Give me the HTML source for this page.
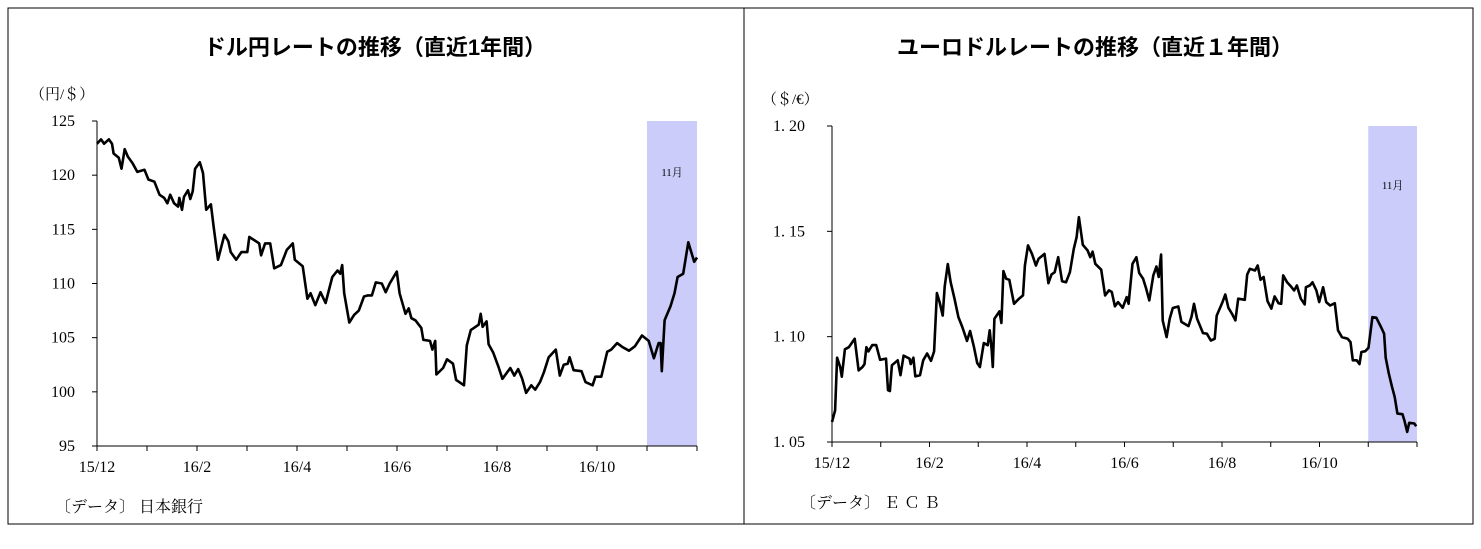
<!DOCTYPE html>
<html><head><meta charset="utf-8"><style>
body{margin:0;background:#fff;}
svg text{font-family:"Liberation Serif","Noto Serif CJK SC",serif;}
.ttl{font-family:"Liberation Sans","Noto Sans CJK JP",sans-serif;font-size:22px;font-weight:600;}
</style></head><body>
<svg id="c" width="1481" height="544" xmlns="http://www.w3.org/2000/svg">
<rect x="8" y="8" width="1465" height="516" fill="none" stroke="#000" stroke-width="1"/>
<line x1="744" y1="8" x2="744" y2="524" stroke="#000"/>
<text class="ttl" x="375" y="55" text-anchor="middle">ドル円レートの推移（直近1年間）</text>
<text class="ttl" x="1095" y="55" text-anchor="middle">ユーロドルレートの推移（直近１年間）</text>
<text x="30" y="99" font-size="15">（円/＄）</text>
<text x="762" y="104" font-size="15">（＄/€）</text>
<text x="55" y="512" font-size="16">〔データ〕 日本銀行</text>
<text x="800" y="508" font-size="16">〔データ〕 Ｅ Ｃ Ｂ</text>
<g id="L"></g><g id="R"></g>
</svg>
<script>
// Left chart (USD/JPY) — time positions in reading units, values in yen
const leftT=[20,30,38,50,58,62,75,82,90,98,110,122,140,150,165,178,190,198,205,215,225,228,235,240,250,256,262,268,280,288,296,308,315,326,342,352,358,372,385,400,405,430,435,445,458,468,485,500,515,520,540,552,560,572,585,598,615,628,635,640,645,658,670,682,695,705,715,725,740,750,760,778,785,800,808,815,825,840,845,862,868,875,878,895,905,920,928,948,955,965,985,990,995,1005,1010,1022,1035,1045,1065,1075,1085,1095,1105,1118,1128,1140,1150,1162,1180,1190,1200,1210,1215,1225,1245,1255,1273,1280,1295,1310,1320,1335,1350,1365,1380,1398,1415,1428,1440,1445,1448,1455,1470,1480,1488,1502,1515,1530,1537];
const leftV=[122.9,123.3,122.9,123.3,122.9,122.0,121.6,120.6,122.4,121.7,121.1,120.3,120.5,119.6,119.4,118.2,117.9,117.4,118.2,117.4,117.1,117.9,116.8,118.0,118.6,117.8,118.5,120.6,121.2,120.2,116.8,117.3,115.2,112.2,114.5,113.9,112.9,112.2,112.9,112.9,114.3,113.7,112.6,113.7,113.7,111.4,111.7,113.1,113.7,112.2,111.6,108.6,109.1,108.0,109.2,108.2,110.6,111.2,110.9,111.7,109.1,106.4,107.1,107.5,108.8,108.9,108.9,110.1,110.0,109.2,110.0,111.1,109.1,107.2,107.7,106.8,106.6,105.9,104.8,104.7,103.9,104.7,101.6,102.2,103.0,102.6,101.1,100.6,104.3,105.7,106.2,107.2,106.0,106.5,104.4,103.6,102.3,101.2,102.2,101.5,102.1,101.2,99.9,100.6,100.2,100.9,101.8,103.2,103.9,101.5,102.5,102.6,103.2,102.0,101.9,100.9,100.6,101.4,101.4,103.7,103.9,104.5,104.1,103.8,104.2,105.2,104.7,103.1,104.5,104.5,101.9,106.6,107.9,109.1,110.6,110.9,113.8,112.0,112.4];
const leftTicks=["95","100","105","110","115","120","125"];
const leftTickVals=[95,100,105,110,115,120,125];
const monthLabels=["15/12","16/2","16/4","16/6","16/8","16/10"];
// Right chart (EUR/USD)
const rightT=[37,45,50,58,62,70,80,95,105,115,120,125,130,140,150,160,175,180,185,190,205,212,220,235,238,245,250,262,270,280,290,298,305,312,320,325,333,340,350,360,370,382,390,400,408,415,425,435,440,445,448,452,465,470,475,482,490,502,515,525,530,538,548,558,565,580,590,598,606,615,625,635,645,655,662,668,678,690,697,703,710,725,735,745,752,760,768,780,790,795,805,815,822,832,840,848,858,866,872,878,882,892,900,908,922,930,948,956,962,970,985,995,1005,1015,1020,1035,1042,1050,1060,1068,1075,1092,1098,1105,1118,1125,1132,1140,1150,1160,1168,1178,1185,1190,1200,1210,1218,1225,1235,1245,1248,1258,1265,1275,1282,1292,1300,1310,1322,1330,1340,1355,1362,1368,1378,1385,1390,1400,1408,1418,1428,1440,1448,1452,1460,1468,1475,1482,1495,1500,1507,1512,1525,1530];
const rightV=[1.0595,1.065,1.090,1.0856,1.081,1.094,1.095,1.099,1.084,1.0856,1.087,1.095,1.093,1.096,1.096,1.089,1.0896,1.0746,1.0742,1.0864,1.0888,1.0817,1.091,1.0896,1.087,1.090,1.0812,1.0817,1.0888,1.092,1.0885,1.093,1.1207,1.1164,1.110,1.1238,1.1345,1.126,1.118,1.1093,1.1046,1.098,1.1027,1.095,1.0875,1.0856,1.097,1.0959,1.103,1.0935,1.0856,1.1085,1.112,1.1065,1.1311,1.1275,1.127,1.1156,1.118,1.1196,1.1338,1.1433,1.1393,1.1338,1.137,1.1393,1.1254,1.1295,1.1306,1.1377,1.1263,1.1258,1.1306,1.1417,1.1472,1.1567,1.1436,1.141,1.1377,1.1404,1.1346,1.1318,1.1196,1.122,1.1212,1.1144,1.1164,1.1137,1.1188,1.1156,1.1346,1.1377,1.1302,1.1275,1.1227,1.1172,1.1291,1.1333,1.1283,1.139,1.1077,1.0998,1.1085,1.1136,1.1143,1.107,1.105,1.1096,1.1156,1.1085,1.1017,1.1014,1.0982,1.099,1.110,1.1164,1.120,1.1137,1.1106,1.1077,1.118,1.1175,1.1295,1.1322,1.1314,1.1338,1.127,1.1283,1.1169,1.1133,1.1191,1.1159,1.1156,1.1291,1.1258,1.1238,1.1219,1.1243,1.118,1.1153,1.1235,1.1243,1.1258,1.1219,1.1164,1.1235,1.1164,1.1148,1.1159,1.103,1.0998,1.099,1.0974,1.0888,1.0888,1.087,1.0927,1.0931,1.0947,1.1093,1.109,1.1046,1.1014,1.090,1.0825,1.0762,1.0714,1.0635,1.0632,1.06,1.0548,1.0591,1.0588,1.0575];
const rightTicks=["1.05","1.10","1.15","1.20"];
const rightTickVals=[1.05,1.10,1.15,1.20];

const NS="http://www.w3.org/2000/svg";
function mk(g,tag,a){const e=document.createElementNS(NS,tag);for(const k in a)e.setAttribute(k,a[k]);g.appendChild(e);return e;}
function draw(gid,cfg){
  const g=document.getElementById(gid);
  const {x0,x1,y0,y1,vmin,vmax,tmin,tmax,T,V,ticks,tickVals,shadeFrom,lblX,lblSize}=cfg;
  const xs=t=>x0+(t-tmin)/(tmax-tmin)*(x1-x0);
  const ys=v=>y1-(v-vmin)/(vmax-vmin)*(y1-y0);
  const mx=m=>x0+m/12*(x1-x0);
  let r=mk(g,'rect',{x:mx(shadeFrom),y:y0,width:x1-mx(shadeFrom),height:y1-y0,fill:'#ccccfa'});
  
  
  let nt=mk(g,'text',{x:(mx(shadeFrom)+x1)/2,y:y0+cfg.novY,'font-size':11,'text-anchor':'middle'});nt.textContent='11月';
  
  
  let ax=mk(g,'line',{x1:x0,y1:y0,x2:x0,y2:y1,stroke:'#000'});
  
  
  let bx=mk(g,'line',{x1:x0,y1:y1,x2:x1,y2:y1,stroke:'#000'});
  
  
  tickVals.forEach((v,i)=>{
    mk(g,'line',{x1:x0-5,y1:ys(v),x2:x0,y2:ys(v),stroke:'#000'});
    const t=mk(g,'text',{x:lblX,y:ys(v)+5,'font-size':lblSize,'text-anchor':'end'});t.textContent=ticks[i];
    
    
  });
  for(let m=0;m<=12;m++){mk(g,'line',{x1:mx(m),y1:y1,x2:mx(m),y2:y1+5,stroke:'#000'});}
  monthLabels.forEach((l,i)=>{
    const t=mk(g,'text',{x:mx(i*2),y:y1+26,'font-size':16,'text-anchor':'middle'});t.textContent=l;
    
    
  });
  const d=T.map((t,i)=>(i?'L':'M')+xs(t).toFixed(1)+' '+ys(V[i]).toFixed(1)).join(' ');
  const p=mk(g,'path',{d:d,fill:'none',stroke:'#000','stroke-width':2.6,'stroke-linejoin':'round'});
  
  
}
draw('L',{x0:97,x1:697,y0:121,y1:446,vmin:95,vmax:125,tmin:20,tmax:1537,T:leftT,V:leftV,ticks:leftTicks,tickVals:leftTickVals,shadeFrom:11,lblX:75,lblSize:16,novY:55});
draw('R',{x0:832,x1:1417,y0:126,y1:442,vmin:1.05,vmax:1.20,tmin:37,tmax:1532,T:rightT,V:rightV,ticks:rightTicks.map(s=>s.replace('.','. ')),tickVals:rightTickVals,shadeFrom:11,lblX:805,lblSize:16,novY:63});
</script>
</body></html>
